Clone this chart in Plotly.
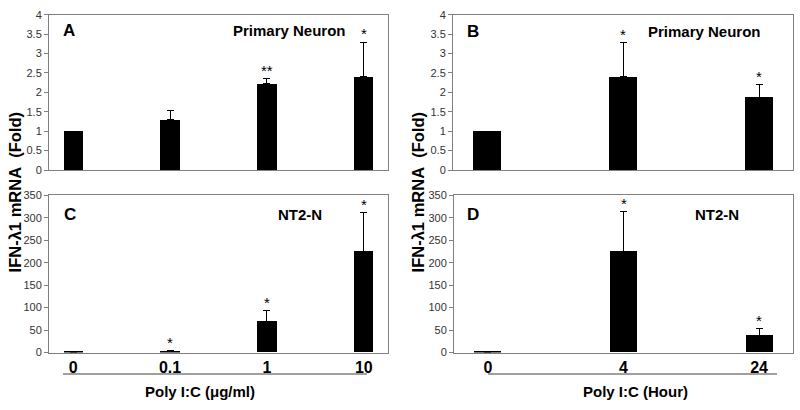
import plotly.graph_objects as go

# ---- data ----
dose_labels = ["0", "0.1", "1", "10"]
hour_labels = ["0", "4", "24"]

a_vals = [1.0, 1.29, 2.23, 2.41]
a_err = [0.0, 0.25, 0.12, 0.88]
a_sig = ["", "", "**", "*"]

b_vals = [1.0, 2.41, 1.88]
b_err = [0.0, 0.87, 0.32]
b_sig = ["", "*", "*"]

c_vals = [1.0, 3.0, 69.0, 226.0]
c_err = [0.0, 1.0, 24.0, 85.0]
c_sig = ["", "*", "*", "*"]

d_vals = [1.0, 226.0, 38.0]
d_err = [0.0, 87.0, 15.0]
d_sig = ["", "*", "*"]

FONT = "Liberation Sans, Arial, sans-serif"
GRAY = "#808080"

H = 410.0
def py(px):
    return 1 - px / H

panels = [
    dict(ax="", vals=a_vals, err=a_err, sig=a_sig, labels=dose_labels, xd=(49, 388), yd=(9, 169),
         yr=[0, 4], dt=0.5, letter="A", cell="Primary Neuron", lx=0.035, cx=0.708, ly=0.90, ticks=False),
    dict(ax="2", vals=b_vals, err=b_err, sig=b_sig, labels=hour_labels, xd=(453, 793), yd=(9, 169),
         yr=[0, 4], dt=0.5, letter="B", cell="Primary Neuron", lx=0.035, cx=0.741, ly=0.895, ticks=False),
    dict(ax="3", vals=c_vals, err=c_err, sig=c_sig, labels=dose_labels, xd=(49, 388), yd=(195, 357),
         yr=[0, 350], dt=50, letter="C", cell="NT2-N", lx=0.038, cx=0.74, ly=0.877, ticks=True),
    dict(ax="4", vals=d_vals, err=d_err, sig=d_sig, labels=hour_labels, xd=(454, 793), yd=(195, 357),
         yr=[0, 350], dt=50, letter="D", cell="NT2-N", lx=0.032, cx=0.776, ly=0.877, ticks=True),
]

fig = go.Figure()
annotations = []
layout_axes = {}

for p in panels:
    n = len(p["vals"])
    xs = list(range(n))
    xref = "x" + p["ax"]
    yref = "y" + p["ax"]
    fig.add_trace(go.Bar(
        x=xs, y=p["vals"], width=0.2, marker=dict(color="black", line=dict(width=0)),
        error_y=dict(type="data", symmetric=False, array=p["err"], arrayminus=[0] * n,
                     color="black", thickness=1, width=3.5),
        xaxis=xref, yaxis=yref, showlegend=False, hoverinfo="skip"))
    xkey = "xaxis" + p["ax"]
    ykey = "yaxis" + p["ax"]
    layout_axes[xkey] = dict(
        domain=[p["xd"][0] / 800, p["xd"][1] / 800], anchor=yref,
        range=[-0.25, n - 0.75], showgrid=False, zeroline=False,
        showline=True, linecolor=GRAY, linewidth=1, mirror=True,
        tickmode="array", tickvals=xs, ticktext=["<b>" + t + "</b>" for t in p["labels"]],
        showticklabels=p["ticks"], ticks="",
        tickfont=dict(family=FONT, size=16, color="black"),
    )
    layout_axes[ykey] = dict(
        domain=[py(p["yd"][1]), py(p["yd"][0])], anchor=xref,
        range=p["yr"], dtick=p["dt"], showgrid=False, zeroline=False,
        showline=True, linecolor=GRAY, linewidth=1, mirror=True,
        ticks="outside", ticklen=4, tickcolor=GRAY, tickwidth=1,
        tickfont=dict(family=FONT, size=11, color="#333333"),
    )
    for i in range(n):
        if p["sig"][i]:
            annotations.append(dict(
                x=xs[i], y=p["vals"][i] + p["err"][i], xref=xref, yref=yref,
                text=p["sig"][i], showarrow=False, yanchor="bottom", yshift=-2,
                font=dict(family=FONT, size=15, color="black")))
    annotations.append(dict(
        x=p["lx"], y=p["ly"], xref=xref + " domain", yref=yref + " domain",
        text="<b>" + p["letter"] + "</b>", showarrow=False, xanchor="left", yanchor="middle",
        font=dict(family=FONT, size=17, color="black")))
    annotations.append(dict(
        x=p["cx"], y=p["ly"], xref=xref + " domain", yref=yref + " domain",
        text="<b>" + p["cell"] + "</b>", showarrow=False, xanchor="center", yanchor="middle",
        font=dict(family=FONT, size=15, color="black")))

ytitle = "<b>IFN-\u03bb1 mRNA\u00a0\u00a0(Fold)</b>"
for xpx in (15, 418):
    annotations.append(dict(
        x=xpx / 800, y=py(192), xref="paper", yref="paper", text=ytitle,
        textangle=-90, showarrow=False, xanchor="center", yanchor="middle",
        font=dict(family=FONT, size=16.5, color="black")))

annotations.append(dict(
    x=200 / 800, y=py(397), xref="paper", yref="paper",
    text="<b>Poly I:C (\u03bcg/ml)</b>", showarrow=False, xanchor="center", yanchor="middle",
    font=dict(family=FONT, size=15, color="black")))
annotations.append(dict(
    x=635 / 800, y=py(397), xref="paper", yref="paper",
    text="<b>Poly I:C (Hour)</b>", showarrow=False, xanchor="center", yanchor="middle",
    font=dict(family=FONT, size=15, color="black")))

shapes = [
    dict(type="line", xref="paper", yref="paper", x0=63 / 800, x1=367 / 800, y0=py(379), y1=py(379),
         line=dict(color=GRAY, width=1.5)),
    dict(type="line", xref="paper", yref="paper", x0=488 / 800, x1=777 / 800, y0=py(379), y1=py(379),
         line=dict(color=GRAY, width=1.5)),
]

fig.update_layout(
    width=800, height=410, margin=dict(l=0, r=0, t=0, b=0),
    paper_bgcolor="white", plot_bgcolor="white",
    annotations=annotations, shapes=shapes, bargap=0,
    font=dict(family=FONT),
    **layout_axes,
)

fig.write_html("out.html", config={"displayModeBar": False},
               post_script="document.body.style.margin='0';document.body.style.overflow='hidden';")
